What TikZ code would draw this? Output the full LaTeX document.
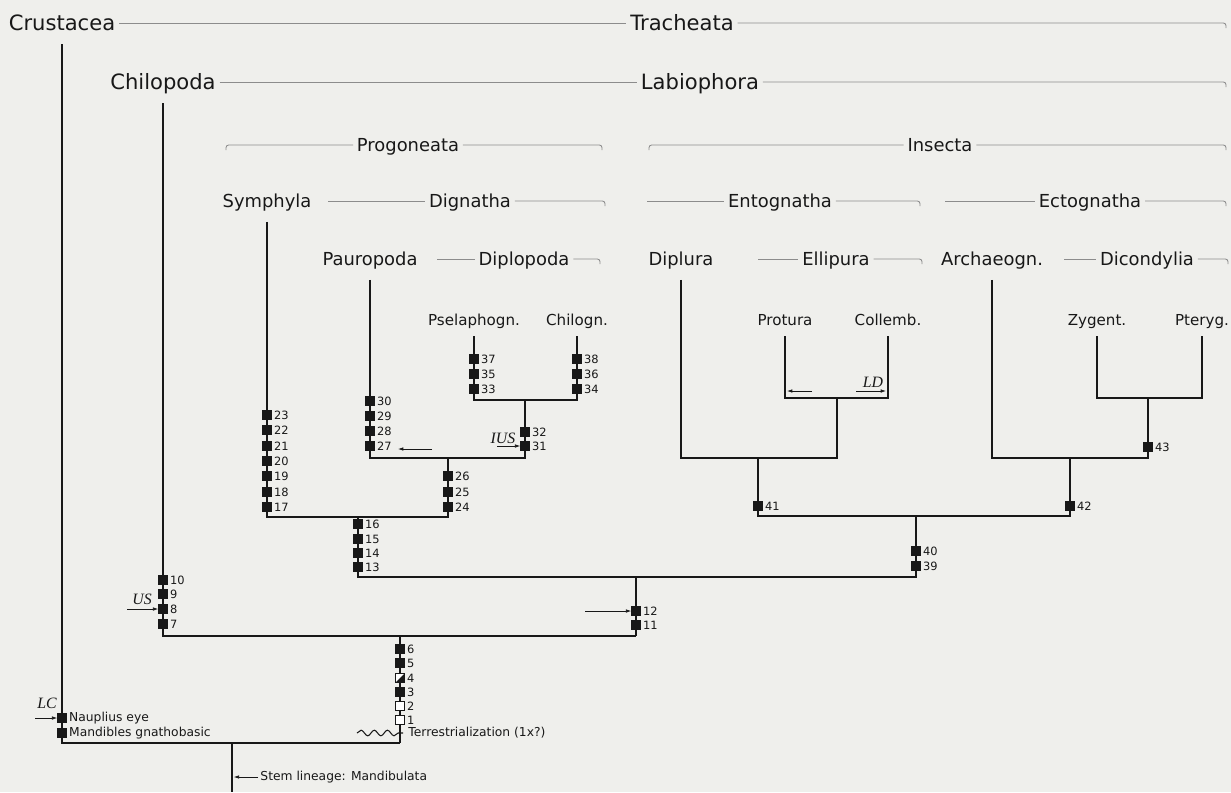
\documentclass[tikz,border=0pt]{standalone}
\usepackage{fontspec}
\setmainfont{DejaVu Sans}
\newfontfamily\tagfont{Liberation Serif}
\usetikzlibrary{arrows.meta,decorations.pathmorphing}

\definecolor{paper}{RGB}{239,239,236}
\definecolor{ink}{RGB}{24,24,24}
\definecolor{rule}{RGB}{140,140,140}

\tikzset{
  taxA/.style={font=\fontsize{12}{14}\selectfont, text=ink, text height=8.8pt, text depth=0pt, inner xsep=2pt, inner ysep=7.5pt},
  taxB/.style={font=\fontsize{10.2}{12}\selectfont, text=ink, text height=7.4pt, text depth=0pt, inner xsep=2pt, inner ysep=8pt},
  taxC/.style={font=\fontsize{8.6}{10}\selectfont, text=ink, text height=6.3pt, text depth=0pt, inner xsep=2pt, inner ysep=6pt},
  hdr/.style={draw=rule, line width=0.5pt, rounded corners=1.5pt},
  tree/.style={draw=ink, line width=0.9pt},
  apo/.style={draw=ink, fill=ink, minimum size=5pt, inner sep=0pt, line width=0.4pt, label distance=1.2pt},
  apoopen/.style={apo, fill=white},
  apohalf/.style={apo, fill=white, path picture={\fill[ink] (path picture bounding box.north east) -- (path picture bounding box.south east) -- (path picture bounding box.south west) -- cycle;}},
  num/.style={font=\fontsize{6.5}{7.5}\selectfont, text=ink, inner sep=1.2pt},
  note/.style={font=\fontsize{7}{8}\selectfont, text=ink, inner sep=1.2pt},
  tag/.style={font=\tagfont\itshape\fontsize{9}{10}\selectfont, text=ink, inner sep=0pt},
  tagarrow/.style={draw=ink, line width=0.4pt, -{Latex[length=3pt,width=2pt]}},
}

\begin{document}
\begin{tikzpicture}[x=0.02cm, y=-0.02cm]
		%%%%% START %%%%%
		\fill[paper] (0,0) rectangle (1231,792);
		\useasboundingbox (0,0) rectangle (1231,792);
		
		% taxon names
		\node[taxA] (crustacea) at (62,23) {Crustacea};
		\node[taxA] (tracheata) at (682,23) {Tracheata};
		\node[taxA] (chilopoda) at (163,82) {Chilopoda};
		\node[taxA] (labiophora) at (700,82) {Labiophora};
		
		\node[taxB] (progoneata) at (408,145) {Progoneata};
		\node[taxB] (insecta) at (940,145) {Insecta};
		\node[taxB] (symphyla) at (267,201) {Symphyla};
		\node[taxB] (dignatha) at (470,201) {Dignatha};
		\node[taxB] (entognatha) at (780,201) {Entognatha};
		\node[taxB] (ectognatha) at (1090,201) {Ectognatha};
		\node[taxB] (pauropoda) at (370,259) {Pauropoda};
		\node[taxB] (diplopoda) at (524,259) {Diplopoda};
		\node[taxB] (diplura) at (681,259) {Diplura};
		\node[taxB] (ellipura) at (836,259) {Ellipura};
		\node[taxB] (archaeogn) at (992,259) {Archaeogn.};
		\node[taxB] (dicondylia) at (1147,259) {Dicondylia};
		
		\node[taxC] (pselaphogn) at (474,320) {Pselaphogn.};
		\node[taxC] (chilogn) at (577,320) {Chilogn.};
		\node[taxC] (protura) at (785,320) {Protura};
		\node[taxC] (collemb) at (888,320) {Collemb.};
		\node[taxC] (zygent) at (1097,320) {Zygent.};
		\node[taxC] (pteryg) at (1202,320) {Pteryg.};
		
		% ends of the group lines
		\coordinate (trE) at (1226,23);
		\coordinate (lbE) at (1226,82);
		\coordinate (pgW) at (226,145);
		\coordinate (pgE) at (602,145);
		\coordinate (inW) at (649,145);
		\coordinate (inE) at (1226,145);
		\coordinate (syE) at (328,201);
		\coordinate (dgE) at (605,201);
		\coordinate (enW) at (647,201);
		\coordinate (enE) at (920,201);
		\coordinate (ecW) at (945,201);
		\coordinate (ecE) at (1226,201);
		\coordinate (paE) at (437,259);
		\coordinate (dpE) at (600,259);
		\coordinate (elW) at (758,259);
		\coordinate (elE) at (922,259);
		\coordinate (dcW) at (1064,259);
		\coordinate (dcE) at (1228,259);
		
		\draw[hdr] (crustacea) -- (tracheata);
		\draw[hdr] (tracheata) -- (trE) -- ++(0,5);
		\draw[hdr] (chilopoda) -- (labiophora);
		\draw[hdr] (labiophora) -- (lbE) -- ++(0,5);
		\draw[hdr] (pgW) ++(0,5) -- (pgW) -- (progoneata);
		\draw[hdr] (progoneata) -- (pgE) -- ++(0,5);
		\draw[hdr] (inW) ++(0,5) -- (inW) -- (insecta);
		\draw[hdr] (insecta) -- (inE) -- ++(0,5);
		\draw[hdr] (syE) -- (dignatha);
		\draw[hdr] (dignatha) -- (dgE) -- ++(0,5);
		\draw[hdr] (enW) -- (entognatha);
		\draw[hdr] (entognatha) -- (enE) -- ++(0,5);
		\draw[hdr] (ecW) -- (ectognatha);
		\draw[hdr] (ectognatha) -- (ecE) -- ++(0,5);
		\draw[hdr] (paE) -- (diplopoda);
		\draw[hdr] (diplopoda) -- (dpE) -- ++(0,5);
		\draw[hdr] (elW) -- (ellipura);
		\draw[hdr] (ellipura) -- (elE) -- ++(0,5);
		\draw[hdr] (dcW) -- (dicondylia);
		\draw[hdr] (dicondylia) -- (dcE) -- ++(0,5);
		
		% branch points
		\coordinate (j0) at (400,743);
		\coordinate (stemTop) at (232,743);
		\coordinate (stemBot) at (232,792);
		\coordinate (j1) at (400,636);
		\coordinate (j2) at (636,636);
		\coordinate (j3) at (636,577);
		\coordinate (jProg) at (358,517);
		\coordinate (jIns) at (916,516);
		\coordinate (jDig) at (448,458);
		\coordinate (jDip) at (525,400);
		\coordinate (jEnt) at (758,458);
		\coordinate (jEct) at (1070,458);
		\coordinate (jEll) at (837,398);
		\coordinate (jDic) at (1148,398);
		
		\draw[tree] (crustacea) |- (j0);
		\draw[tree] (stemTop) -- (stemBot);
		\draw[tree] (j0) -- (j1);
		\draw[tree] (chilopoda) |- (j2);
		\draw[tree] (j2) -- (j3);
		\draw[tree] (jProg) |- (jIns |- j3) -- (jIns);
		\draw[tree] (symphyla) |- (jDig |- jProg) -- (jDig);
		\draw[tree] (pauropoda) |- (jDip |- jDig) -- (jDip);
		\draw[tree] (pselaphogn) |- (chilogn |- jDip) -- (chilogn);
		\draw[tree] (jEnt) |- (jEct |- jIns) -- (jEct);
		\draw[tree] (diplura) |- (jEll |- jEnt) -- (jEll);
		\draw[tree] (protura) |- (collemb |- jEll) -- (collemb);
		\draw[tree] (archaeogn) |- (jDic |- jEct) -- (jDic);
		\draw[tree] (zygent) |- (pteryg |- jDic) -- (pteryg);
		
		% terrestrialization
		\coordinate (wavL) at (357,733);
		\coordinate (wavR) at (403,733);
		\draw[ink, line width=0.6pt, decorate, decoration={snake, amplitude=1.6pt, segment length=7.5pt}] (wavL) -- (wavR);
		\node[note, anchor=west] (terr) at (406,733) {Terrestrialization (1x?)};
		
		% apomorphies
		\node[apo, label={[note]right:Nauplius eye}] (nauplius) at (62,718) {};
		\node[apo, label={[note]right:Mandibles gnathobasic}] (mandibles) at (62,733) {};
		
		\node[apoopen, label={[num]right:1}] (c1) at (400,720) {};
		\node[apoopen, label={[num]right:2}] (c2) at (400,706) {};
		\node[apo, label={[num]right:3}] (c3) at (400,692) {};
		\node[apohalf, label={[num]right:4}] (c4) at (400,678) {};
		\node[apo, label={[num]right:5}] (c5) at (400,663) {};
		\node[apo, label={[num]right:6}] (c6) at (400,649) {};
		
		\node[apo, label={[num]right:7}] (c7) at (163,624) {};
		\node[apo, label={[num]right:8}] (c8) at (163,609) {};
		\node[apo, label={[num]right:9}] (c9) at (163,594) {};
		\node[apo, label={[num]right:10}] (c10) at (163,580) {};
		\node[apo, label={[num]right:11}] (c11) at (636,625) {};
		\node[apo, label={[num]right:12}] (c12) at (636,611) {};
		
		\node[apo, label={[num]right:13}] (c13) at (358,567) {};
		\node[apo, label={[num]right:14}] (c14) at (358,553) {};
		\node[apo, label={[num]right:15}] (c15) at (358,539) {};
		\node[apo, label={[num]right:16}] (c16) at (358,524) {};
		
		\node[apo, label={[num]right:17}] (c17) at (267,507) {};
		\node[apo, label={[num]right:18}] (c18) at (267,492) {};
		\node[apo, label={[num]right:19}] (c19) at (267,476) {};
		\node[apo, label={[num]right:20}] (c20) at (267,461) {};
		\node[apo, label={[num]right:21}] (c21) at (267,446) {};
		\node[apo, label={[num]right:22}] (c22) at (267,430) {};
		\node[apo, label={[num]right:23}] (c23) at (267,415) {};
		
		\node[apo, label={[num]right:24}] (c24) at (448,507) {};
		\node[apo, label={[num]right:25}] (c25) at (448,492) {};
		\node[apo, label={[num]right:26}] (c26) at (448,476) {};
		
		\node[apo, label={[num]right:27}] (c27) at (370,446) {};
		\node[apo, label={[num]right:28}] (c28) at (370,431) {};
		\node[apo, label={[num]right:29}] (c29) at (370,416) {};
		\node[apo, label={[num]right:30}] (c30) at (370,401) {};
		
		\node[apo, label={[num]right:31}] (c31) at (525,446) {};
		\node[apo, label={[num]right:32}] (c32) at (525,432) {};
		
		\node[apo, label={[num]right:33}] (c33) at (474,389) {};
		\node[apo, label={[num]right:35}] (c35) at (474,374) {};
		\node[apo, label={[num]right:37}] (c37) at (474,359) {};
		\node[apo, label={[num]right:34}] (c34) at (577,389) {};
		\node[apo, label={[num]right:36}] (c36) at (577,374) {};
		\node[apo, label={[num]right:38}] (c38) at (577,359) {};
		
		\node[apo, label={[num]right:39}] (c39) at (916,566) {};
		\node[apo, label={[num]right:40}] (c40) at (916,551) {};
		\node[apo, label={[num]right:41}] (c41) at (758,506) {};
		\node[apo, label={[num]right:42}] (c42) at (1070,506) {};
		\node[apo, label={[num]right:43}] (c43) at (1148,447) {};
		
		% loss and convergence marks
		\node[tag] (lc) at (47,703) {LC};
		\coordinate (lcS) at (35,718);
		\draw[tagarrow] (lcS) -- (nauplius);
		
		\node[tag] (us) at (142,599) {US};
		\coordinate (usS) at (127,609);
		\draw[tagarrow] (usS) -- (c8);
		
		\coordinate (a12S) at (585,611);
		\draw[tagarrow] (a12S) -- (c12);
		
		\coordinate (a27S) at (432,449);
		\coordinate (a27E) at (398,449);
		\draw[tagarrow] (a27S) -- (a27E);
		
		\node[tag] (ius) at (503,438) {IUS};
		\coordinate (iusS) at (497,446);
		\draw[tagarrow] (iusS) -- (c31);
		
		\node[tag] (ld) at (873,382) {LD};
		\coordinate (ldM1) at (812,391);
		\coordinate (ldL) at (787,391);
		\coordinate (ldM2) at (856,391);
		\coordinate (ldR) at (886,391);
		\draw[tagarrow] (ldM1) -- (ldL);
		\draw[tagarrow] (ldM2) -- (ldR);
		
		% stem lineage
		\node[note, anchor=west] (stemnote) at (258,777) {Stem lineage: Mandibulata};
		\draw[tagarrow, shorten >=1pt] (stemnote.west) -- (stemnote.west -| stemTop);
		
		%%%%% END %%%%%
	\end{tikzpicture}
\end{document}
